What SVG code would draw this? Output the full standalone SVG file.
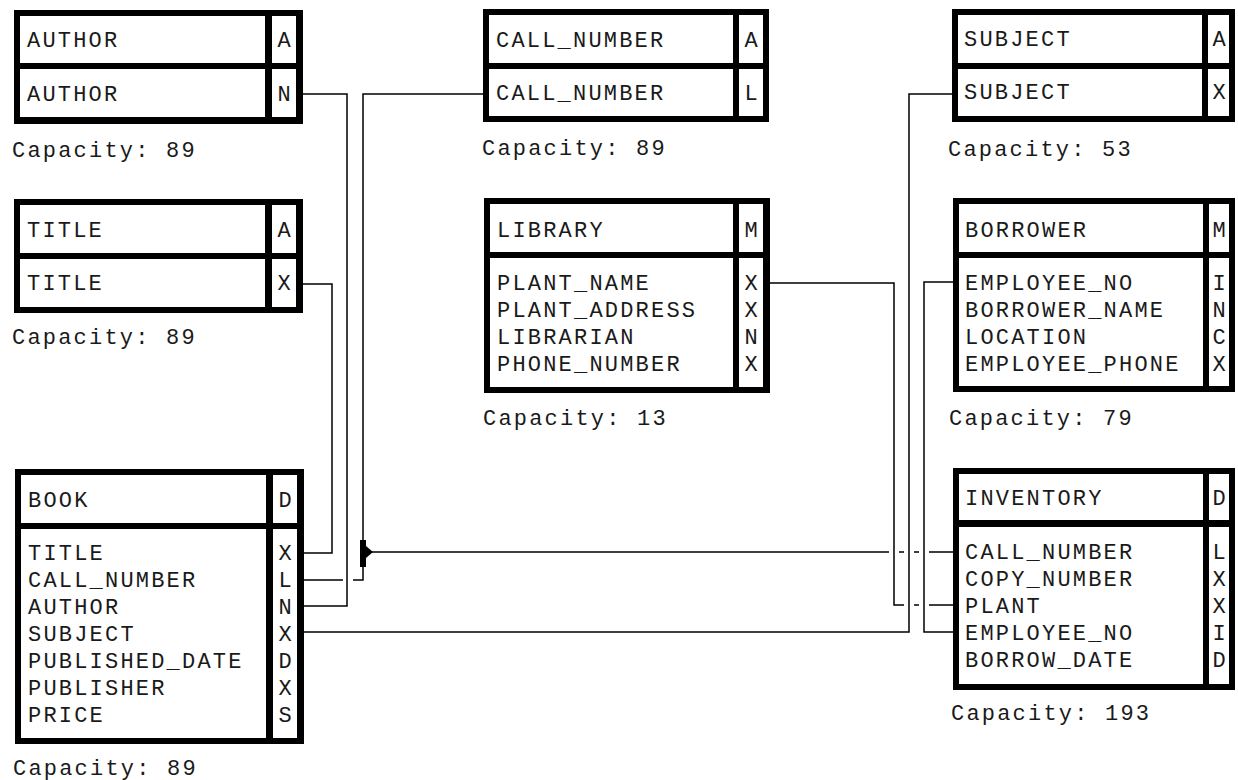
<svg xmlns="http://www.w3.org/2000/svg" width="1238" height="780" viewBox="0 0 1238 780">
<style>
.frame{fill:#000}
.cell{fill:#fff}
text{font-family:"Liberation Mono","DejaVu Sans Mono",monospace;font-size:22px;fill:#1a1a1a}
.t{letter-spacing:2.2px}
.ty{text-anchor:middle}
.conn{fill:none;stroke:#000;stroke-width:1.5}
</style>
<rect width="1238" height="780" fill="#fff"/>

<g id="author">
<rect class="frame" x="14" y="10" width="289" height="114"/>
<rect class="cell" x="20" y="16" width="245" height="47"/>
<rect class="cell" x="272" y="16" width="24" height="47"/>
<rect class="cell" x="20" y="69" width="245" height="48"/>
<rect class="cell" x="272" y="69" width="24" height="48"/>
<text class="t" x="27" y="47">AUTHOR</text>
<text class="ty" x="284" y="47">A</text>
<text class="t" x="27" y="101">AUTHOR</text>
<text class="ty" x="284" y="101">N</text>
<text class="t" x="12" y="157">Capacity: 89</text>
</g>

<g id="title">
<rect class="frame" x="14" y="199" width="289" height="114"/>
<rect class="cell" x="20" y="205" width="245" height="48"/>
<rect class="cell" x="272" y="205" width="24" height="48"/>
<rect class="cell" x="20" y="259" width="245" height="48"/>
<rect class="cell" x="272" y="259" width="24" height="48"/>
<text class="t" x="27" y="237">TITLE</text>
<text class="ty" x="284" y="237">A</text>
<text class="t" x="27" y="290">TITLE</text>
<text class="ty" x="284" y="290">X</text>
<text class="t" x="12" y="344">Capacity: 89</text>
</g>

<g id="book">
<rect class="frame" x="15" y="469" width="289" height="275"/>
<rect class="cell" x="21" y="475" width="245" height="48"/>
<rect class="cell" x="273" y="475" width="24" height="48"/>
<rect class="cell" x="21" y="529" width="245" height="209"/>
<rect class="cell" x="273" y="529" width="24" height="209"/>
<text class="t" x="28" y="507">BOOK</text>
<text class="ty" x="285" y="507">D</text>
<text class="t" x="28" y="560">TITLE</text>
<text class="t" x="28" y="587">CALL_NUMBER</text>
<text class="t" x="28" y="614">AUTHOR</text>
<text class="t" x="28" y="641">SUBJECT</text>
<text class="t" x="28" y="668">PUBLISHED_DATE</text>
<text class="t" x="28" y="695">PUBLISHER</text>
<text class="t" x="28" y="722">PRICE</text>
<text class="ty" x="285" y="560">X</text>
<text class="ty" x="285" y="587">L</text>
<text class="ty" x="285" y="614">N</text>
<text class="ty" x="285" y="641">X</text>
<text class="ty" x="285" y="668">D</text>
<text class="ty" x="285" y="695">X</text>
<text class="ty" x="285" y="722">S</text>
<text class="t" x="13" y="775">Capacity: 89</text>
</g>

<g id="call_number">
<rect class="frame" x="483" y="9" width="286" height="113"/>
<rect class="cell" x="489" y="15" width="244" height="48"/>
<rect class="cell" x="739" y="15" width="24" height="48"/>
<rect class="cell" x="489" y="69" width="244" height="47"/>
<rect class="cell" x="739" y="69" width="24" height="47"/>
<text class="t" x="496" y="47">CALL_NUMBER</text>
<text class="ty" x="751" y="47">A</text>
<text class="t" x="496" y="100">CALL_NUMBER</text>
<text class="ty" x="751" y="100">L</text>
<text class="t" x="482" y="155">Capacity: 89</text>
</g>

<g id="library">
<rect class="frame" x="484" y="198" width="286" height="195"/>
<rect class="cell" x="490" y="204" width="243" height="48"/>
<rect class="cell" x="739" y="204" width="24" height="48"/>
<rect class="cell" x="490" y="258" width="243" height="129"/>
<rect class="cell" x="739" y="258" width="24" height="129"/>
<text class="t" x="497" y="237">LIBRARY</text>
<text class="ty" x="751" y="237">M</text>
<text class="t" x="497" y="290">PLANT_NAME</text>
<text class="t" x="497" y="317">PLANT_ADDRESS</text>
<text class="t" x="497" y="344">LIBRARIAN</text>
<text class="t" x="497" y="371">PHONE_NUMBER</text>
<text class="ty" x="751" y="290">X</text>
<text class="ty" x="751" y="317">X</text>
<text class="ty" x="751" y="344">N</text>
<text class="ty" x="751" y="371">X</text>
<text class="t" x="483" y="425">Capacity: 13</text>
</g>

<g id="subject">
<rect class="frame" x="952" y="9" width="283" height="113"/>
<rect class="cell" x="958" y="15" width="244" height="48"/>
<rect class="cell" x="1208" y="15" width="21" height="48"/>
<rect class="cell" x="958" y="69" width="244" height="47"/>
<rect class="cell" x="1208" y="69" width="21" height="47"/>
<text class="t" x="964" y="46">SUBJECT</text>
<text class="ty" x="1219" y="46">A</text>
<text class="t" x="964" y="99">SUBJECT</text>
<text class="ty" x="1219" y="99">X</text>
<text class="t" x="948" y="156">Capacity: 53</text>
</g>

<g id="borrower">
<rect class="frame" x="953" y="198" width="282" height="194"/>
<rect class="cell" x="959" y="204" width="244" height="48"/>
<rect class="cell" x="1209" y="204" width="20" height="48"/>
<rect class="cell" x="959" y="258" width="244" height="128"/>
<rect class="cell" x="1209" y="258" width="20" height="128"/>
<text class="t" x="965" y="237">BORROWER</text>
<text class="ty" x="1219" y="237">M</text>
<text class="t" x="965" y="290">EMPLOYEE_NO</text>
<text class="t" x="965" y="317">BORROWER_NAME</text>
<text class="t" x="965" y="344">LOCATION</text>
<text class="t" x="965" y="371">EMPLOYEE_PHONE</text>
<text class="ty" x="1219" y="290">I</text>
<text class="ty" x="1219" y="317">N</text>
<text class="ty" x="1219" y="344">C</text>
<text class="ty" x="1219" y="371">X</text>
<text class="t" x="949" y="425">Capacity: 79</text>
</g>

<g id="inventory">
<rect class="frame" x="953" y="468" width="282" height="222"/>
<rect class="cell" x="959" y="474" width="244" height="46"/>
<rect class="cell" x="1209" y="474" width="20" height="46"/>
<rect class="cell" x="959" y="527" width="244" height="157"/>
<rect class="cell" x="1209" y="527" width="20" height="157"/>
<text class="t" x="965" y="505">INVENTORY</text>
<text class="ty" x="1219" y="505">D</text>
<text class="t" x="965" y="559">CALL_NUMBER</text>
<text class="t" x="965" y="586">COPY_NUMBER</text>
<text class="t" x="965" y="613">PLANT</text>
<text class="t" x="965" y="640">EMPLOYEE_NO</text>
<text class="t" x="965" y="667">BORROW_DATE</text>
<text class="ty" x="1219" y="559">L</text>
<text class="ty" x="1219" y="586">X</text>
<text class="ty" x="1219" y="613">X</text>
<text class="ty" x="1219" y="640">I</text>
<text class="ty" x="1219" y="667">D</text>
<text class="t" x="951" y="720">Capacity: 193</text>
</g>

<g id="connectors">
<path class="conn" d="M303,94 H347 V606 H304"/>
<path class="conn" d="M303,284 H332 V553 H304"/>
<path class="conn" d="M483,94 H363 V541"/>
<path class="conn" d="M363,566 V580 H353 M343,580 H304"/>
<rect x="360" y="540" width="6" height="27" fill="#000"/>
<polygon points="366,546 373,552 366,558" fill="#000"/>
<path class="conn" d="M372,552 H889 M899,552 H904 M914,552 H919 M929,552 H953"/>
<path class="conn" d="M304,632 H909 V94 H952"/>
<path class="conn" d="M770,283 H894 V605 H904 M914,605 H919 M929,605 H953"/>
<path class="conn" d="M953,282 H924 V632 H953"/>
</g>
</svg>
